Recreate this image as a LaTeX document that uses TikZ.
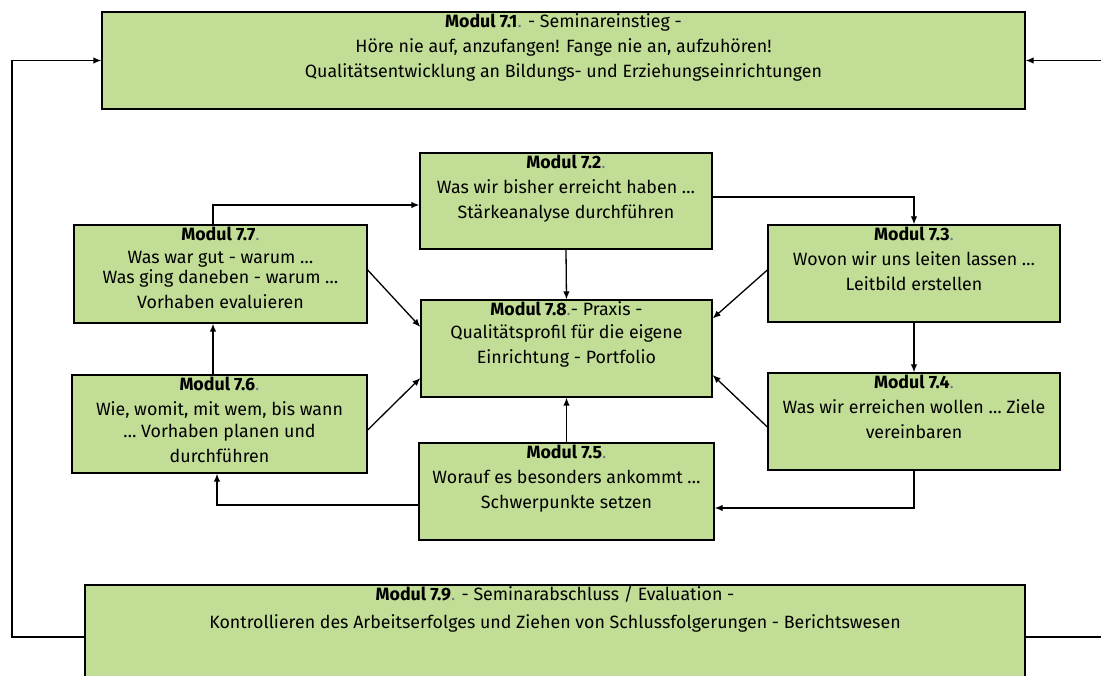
\documentclass[tikz,border=0pt]{standalone}
\usepackage{fontspec}
\setmainfont{Fira Sans}
\usepackage{xcolor}
\definecolor{modgreen}{RGB}{194,221,150}
\definecolor{dotgray}{RGB}{105,125,135}
\usetikzlibrary{arrows,arrows.meta,positioning}

\tikzset{
	modul/.style={draw=black,line width=1.3pt,fill=modgreen,inner sep=0pt},
	modtext/.style={anchor=north,align=center,inner sep=0pt,yshift=-2pt,font=\fontsize{17.8}{25}\selectfont},
	flow/.style={->,>={Latex[length=8pt,width=6.5pt]},line width=1.3pt}
}
\newcommand{\modnr}[1]{\textbf{Modul #1}\textcolor{dotgray}{.}}

\begin{document}
\begin{tikzpicture}[x=1pt,y=-1pt]
	\useasboundingbox (0,0) rectangle (1101,676);
	
	\coordinate[] (lp) at (12,637);
	\coordinate[] (rp) at (1106,637);
	
	\node[modul,minimum width=923pt,minimum height=97pt,label={[modtext]north:{\modnr{7.1} - Seminareinstieg -\\ H\"ore nie auf, anzufangen! Fange nie an, aufzuh\"oren!\\ Qualit\"atsentwicklung an Bildungs- und Erziehungseinrichtungen}}] (m71) at (563.5,60.5) {};
	\node[modul,minimum width=292pt,minimum height=96pt,label={[modtext]north:{\modnr{7.2}\\ Was wir bisher erreicht haben \ldots\\ St\"arkeanalyse durchf\"uhren}}] (m72) at (566,201) {};
	\node[modul,minimum width=292pt,minimum height=97pt,label={[modtext]north:{\modnr{7.3}\\ Wovon wir uns leiten lassen \ldots\\ Leitbild erstellen}}] (m73) at (914,273.5) {};
	\node[modul,minimum width=292pt,minimum height=97pt,label={[modtext]north:{\modnr{7.4}\\ Was wir erreichen wollen \ldots{} Ziele\\ vereinbaren}}] (m74) at (914,421.5) {};
	\node[modul,minimum width=295pt,minimum height=97pt,label={[modtext]north:{\modnr{7.5}\\ Worauf es besonders ankommt \ldots\\ Schwerpunkte setzen}}] (m75) at (566.5,491.5) {};
	\node[modul,minimum width=295pt,minimum height=98pt,label={[modtext]north:{\modnr{7.6}\\ Wie, womit, mit wem, bis wann\\[-3pt] \ldots{} Vorhaben planen und\\ durchf\"uhren}}] (m76) at (219.5,424) {};
	\node[modul,minimum width=293pt,minimum height=98pt,label={[modtext]north:{\modnr{7.7}\\[-2pt] Was war gut - warum \ldots\\[-5pt] Was ging daneben - warum \ldots\\ Vorhaben evaluieren}}] (m77) at (220.5,274) {};
	\node[modul,minimum width=291pt,minimum height=97pt,label={[modtext]north:{\textbf{Modul 7.8}\textcolor{dotgray}{.}- Praxis -\\[-2pt] Qualit\"atsprofil f\"ur die eigene\\ Einrichtung - Portfolio}}] (m78) at (566.5,348.5) {};
	\node[modul,minimum width=940pt,minimum height=112pt,label={[modtext]north:{\modnr{7.9} - Seminarabschluss / Evaluation -\\[3pt] Kontrollieren des Arbeitserfolges und Ziehen von Schlussfolgerungen - Berichtswesen}}] (m79) at (555,641) {};
	
	\draw[flow](m79.west |- lp)--(lp)|-(m71.west);
	\draw[flow](m79.east |- rp)--(rp)|-(m71.east);
	
	\draw[flow]([xshift=-7.5pt]m77.north)|-([yshift=-4pt]m72.west);
	\draw[flow]([yshift=4pt]m72.east)-|(m73.north);
	\draw[flow](m72.south)--(m78.north);
	\draw[flow]([yshift=3.5pt]m73.west)--([yshift=30pt]m78.east);
	\draw[flow](m73.south)--(m74.north);
	\draw[flow]([yshift=-5.5pt]m74.west)--([yshift=-26.5pt]m78.east);
	\draw[flow](m74.south)|-([yshift=-16.5pt]m75.east);
	\draw[flow](m75.north)--(m78.south);
	\draw[flow]([yshift=-13.5pt]m75.west)-|([xshift=-2.5pt]m76.south);
	\draw[flow]([yshift=-6pt]m76.east)--([yshift=-29.5pt]m78.west);
	\draw[flow]([xshift=-6.5pt]m76.north)--([xshift=-7.5pt]m77.south);
	\draw[flow]([yshift=4pt]m77.east)--([yshift=21.5pt]m78.west);
	%\draw[flow](m76.north)--(m77.south);
\end{tikzpicture}
\end{document}
